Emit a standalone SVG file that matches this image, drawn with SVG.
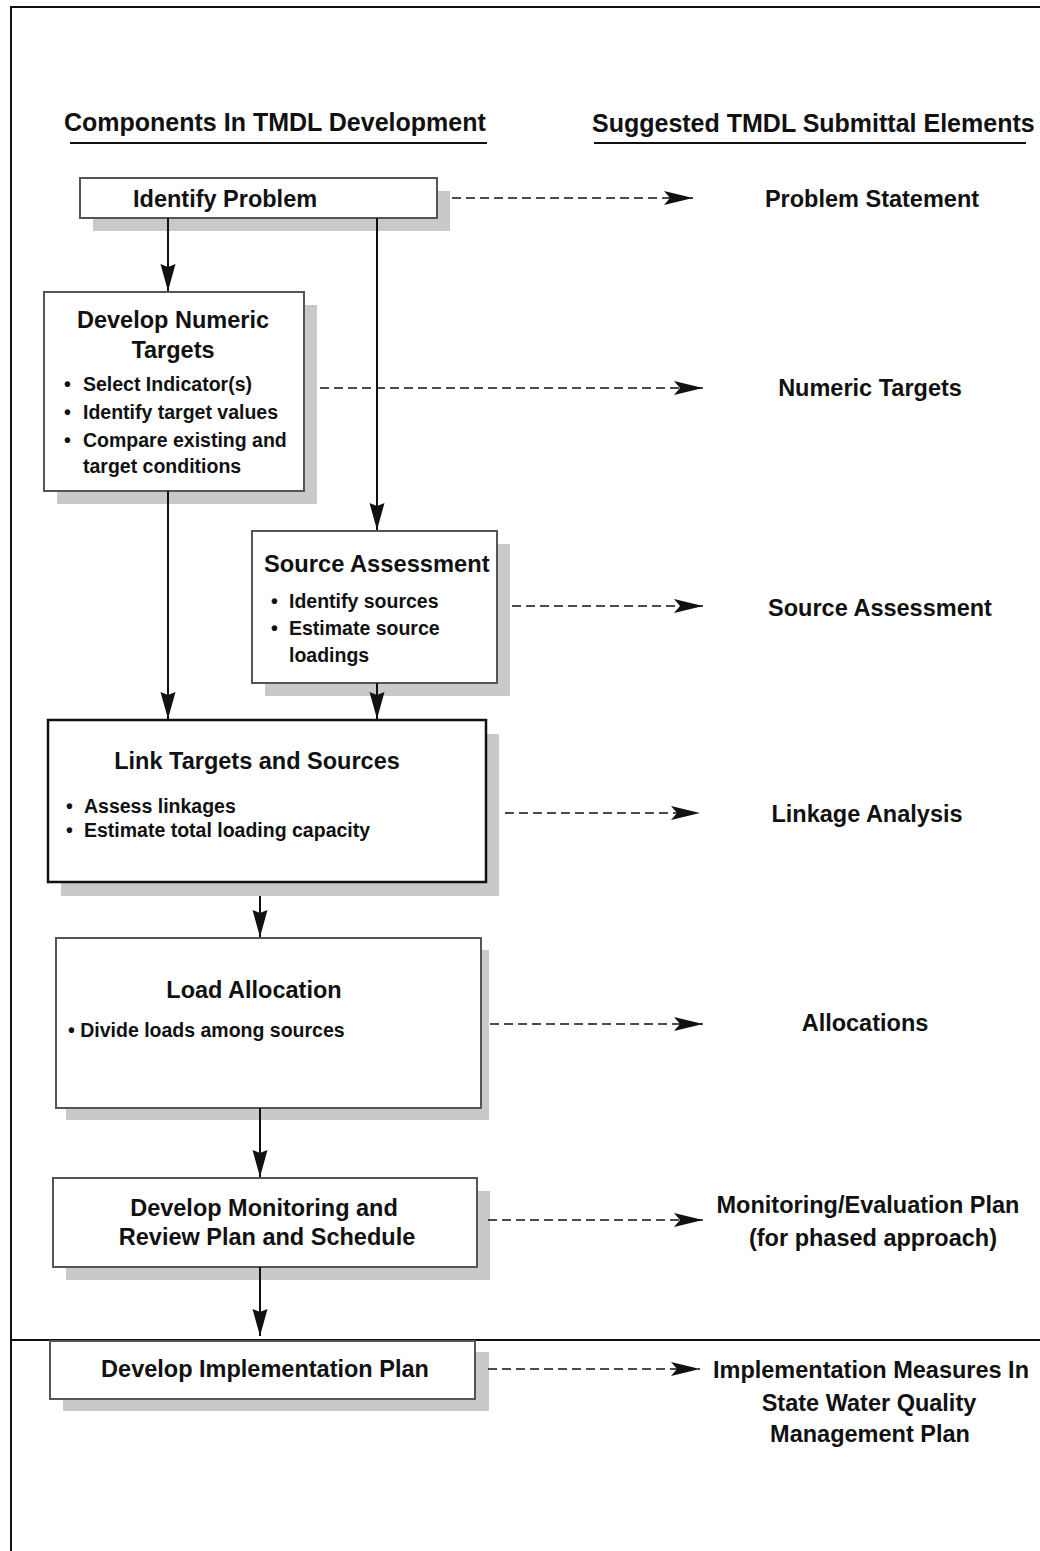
<svg xmlns="http://www.w3.org/2000/svg" width="1040" height="1551" viewBox="0 0 1040 1551">
<style>
text{font-family:"Liberation Sans",Arial,sans-serif;font-weight:bold;fill:#111}
.hd{font-size:25px}
.t{font-size:23.5px}
.b{font-size:19.5px}
.c{text-anchor:middle}
.box{fill:#fff;stroke:#555;stroke-width:2}
.box2{fill:#fff;stroke:#111;stroke-width:2.5}
.sh{fill:#c9c9c9}
.ln{stroke:#111;stroke-width:2;fill:none}
.dash{stroke:#111;stroke-width:1.6;stroke-dasharray:9 5;fill:none}
</style>
<defs>
<marker id="ah" markerUnits="userSpaceOnUse" markerWidth="28" markerHeight="16" refX="27" refY="8" orient="auto" viewBox="0 0 28 16">
<path d="M0,0.5 L27,8 L0,15.5 L3,8 Z" fill="#111"/>
</marker>
<marker id="dh" markerUnits="userSpaceOnUse" markerWidth="30" markerHeight="16" refX="29" refY="8" orient="auto" viewBox="0 0 30 16">
<path d="M0,1 L29,8 L0,15 L6,8 Z" fill="#111"/>
</marker>
</defs>
<rect width="1040" height="1551" fill="#fff"/>
<g id="frame">
<line x1="11" y1="7" x2="1040" y2="7" class="ln"/>
<line x1="11" y1="6" x2="11" y2="1551" class="ln"/>
<line x1="11" y1="1340" x2="1040" y2="1340" class="ln"/>
</g>
<g id="headers">
<text class="hd" x="64" y="131">Components In TMDL Development</text>
<line x1="70" y1="143" x2="487" y2="143" class="ln"/>
<text class="hd" x="592" y="132">Suggested TMDL Submittal Elements</text>
<line x1="594" y1="143" x2="1026" y2="143" class="ln"/>
</g>
<g id="n-identify">
<rect class="sh" x="93" y="191" width="357" height="40"/>
<rect class="box" x="80" y="178" width="357" height="40"/>
<text class="t" x="133" y="207">Identify Problem</text>
</g>
<g id="n-numeric">
<rect class="sh" x="57" y="305" width="260" height="199"/>
<rect class="box" x="44" y="292" width="260" height="199"/>
<text class="t c" x="173" y="328">Develop Numeric</text>
<text class="t c" x="173" y="358">Targets</text>
<text class="b" x="64" y="391">•</text><text class="b" x="83" y="391">Select Indicator(s)</text>
<text class="b" x="64" y="419">•</text><text class="b" x="83" y="419">Identify target values</text>
<text class="b" x="64" y="447">•</text><text class="b" x="83" y="447">Compare existing and</text>
<text class="b" x="83" y="473">target conditions</text>
</g>
<g id="n-source">
<rect class="sh" x="265" y="544" width="245" height="152"/>
<rect class="box" x="252" y="531" width="245" height="152"/>
<text class="t" x="264" y="572" style="font-size:23.7px">Source Assessment</text>
<text class="b" x="271" y="608">•</text><text class="b" x="289" y="608">Identify sources</text>
<text class="b" x="271" y="635">•</text><text class="b" x="289" y="635">Estimate source</text>
<text class="b" x="289" y="662">loadings</text>
</g>
<g id="n-link">
<rect class="sh" x="61" y="734" width="438" height="162"/>
<rect class="box2" x="48" y="720" width="438" height="162"/>
<text class="t c" x="257" y="769">Link Targets and Sources</text>
<text class="b" x="66" y="813">•</text><text class="b" x="84" y="813">Assess linkages</text>
<text class="b" x="66" y="837">•</text><text class="b" x="84" y="837">Estimate total loading capacity</text>
</g>
<g id="n-load">
<rect class="sh" x="66" y="950" width="423" height="170"/>
<rect class="box" x="56" y="938" width="425" height="170"/>
<text class="t c" x="254" y="998">Load Allocation</text>
<text class="b" x="68" y="1037">• Divide loads among sources</text>
</g>
<g id="n-monitor">
<rect class="sh" x="66" y="1191" width="424" height="89"/>
<rect class="box" x="53" y="1178" width="424" height="89"/>
<text class="t c" x="264" y="1216">Develop Monitoring and</text>
<text class="t c" x="267" y="1245">Review Plan and Schedule</text>
</g>
<g id="n-impl">
<rect class="sh" x="63" y="1352" width="426" height="59"/>
<rect class="box" x="50" y="1341" width="425" height="58"/>
<text class="t c" x="265" y="1377">Develop Implementation Plan</text>
</g>
<g id="n-right">
<text class="t c" x="872" y="207">Problem Statement</text>
<text class="t c" x="870" y="396">Numeric Targets</text>
<text class="t c" x="880" y="616">Source Assessment</text>
<text class="t c" x="867" y="822">Linkage Analysis</text>
<text class="t c" x="865" y="1031">Allocations</text>
<text class="t c" x="868" y="1213">Monitoring/Evaluation Plan</text>
<text class="t c" x="873" y="1246">(for phased approach)</text>
<text class="t c" x="871" y="1378">Implementation Measures In</text>
<text class="t c" x="869" y="1411">State Water Quality</text>
<text class="t c" x="870" y="1442">Management Plan</text>
</g>
<g id="connectors">
<line class="ln" x1="168" y1="218" x2="168" y2="291" marker-end="url(#ah)"/>
<line class="ln" x1="377" y1="218" x2="377" y2="530" marker-end="url(#ah)"/>
<line class="ln" x1="168" y1="491" x2="168" y2="719" marker-end="url(#ah)"/>
<line class="ln" x1="377" y1="683" x2="377" y2="719" marker-end="url(#ah)"/>
<line class="ln" x1="260" y1="896" x2="260" y2="937" marker-end="url(#ah)"/>
<line class="ln" x1="260" y1="1108" x2="260" y2="1177" marker-end="url(#ah)"/>
<line class="ln" x1="260" y1="1267" x2="260" y2="1336" marker-end="url(#ah)"/>
<line class="dash" x1="452" y1="198" x2="693" y2="198" marker-end="url(#dh)"/>
<line class="dash" x1="320" y1="388" x2="703" y2="388" marker-end="url(#dh)"/>
<line class="dash" x1="512" y1="606" x2="703" y2="606" marker-end="url(#dh)"/>
<line class="dash" x1="505" y1="813" x2="700" y2="813" marker-end="url(#dh)"/>
<line class="dash" x1="490" y1="1024" x2="703" y2="1024" marker-end="url(#dh)"/>
<line class="dash" x1="488" y1="1220" x2="703" y2="1220" marker-end="url(#dh)"/>
<line class="dash" x1="488" y1="1369" x2="700" y2="1369" marker-end="url(#dh)"/>
</g>
</svg>
